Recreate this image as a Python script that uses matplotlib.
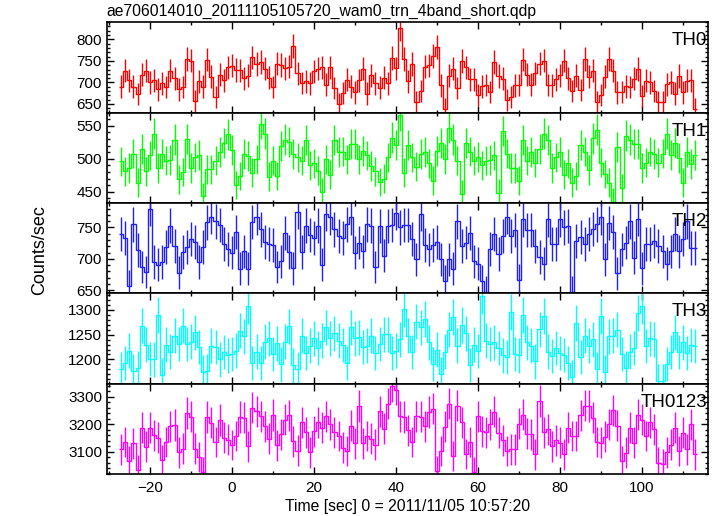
import numpy as np
import matplotlib
matplotlib.use("Agg")
import matplotlib.pyplot as plt
from matplotlib.ticker import MultipleLocator

plt.rcParams['font.family'] = ['Liberation Sans', 'DejaVu Sans']

# --- data (1 s bins, first bin starts at t = -27.5 s) ----------------------
t_start, bin_width = -27.5, 1.0

th0 = [690, 727, 705, 690, 673, 718, 727, 700, 705, 684,
       698, 689, 727, 710, 684, 689, 755, 751, 656, 703,
       690, 753, 713, 666, 718, 705, 735, 739, 729, 728,
       710, 716, 758, 743, 747, 732, 711, 689, 744, 741,
       733, 737, 784, 721, 699, 703, 698, 726, 732, 735,
       695, 735, 687, 650, 676, 706, 690, 677, 705, 732,
       674, 717, 698, 688, 711, 698, 757, 733, 826,
       755, 703, 743, 654, 680, 737, 740, 762, 782, 693,
       639, 716, 732, 687, 750, 735, 707, 707, 671, 691,
       694, 678, 747, 715, 709, 660, 667, 693, 694, 753,
       718, 695, 721, 744, 751, 694, 693, 707, 717, 751,
       710, 680, 716, 682, 755, 713, 727, 654, 671, 713,
       754, 727, 677, 678, 691, 689, 709, 731, 669, 704,
       700, 680, 655, 654, 696, 700, 674, 715, 677, 704,
       705, 638]

th1 = [496, 481, 486, 508, 464, 515, 481, 505, 538, 486,
       507, 497, 498, 529, 469, 480, 530, 486, 502, 506,
       443, 484, 484, 497, 510, 524, 537, 513, 460, 474,
       507, 504, 479, 499, 553, 538, 473, 497, 474, 520,
       529, 525, 507, 502, 497, 528, 490, 493, 482, 449,
       499, 476, 528, 510, 511, 499, 522, 523, 499, 512,
       505, 489, 481, 465, 470, 502, 532, 521, 566,
       479, 521, 502, 488, 507, 510, 493, 467, 512, 524,
       500, 547, 529, 497, 447, 524, 511, 497, 503, 490,
       497, 498, 505, 448, 542, 508, 486, 486, 467, 528,
       497, 510, 494, 515, 538, 528, 486, 502, 510, 476,
       493, 464, 474, 521, 511, 483, 531, 544, 494, 477,
       464, 435, 518, 455, 535, 529, 522, 523, 486, 494,
       511, 507, 494, 508, 538, 506, 524, 501, 464, 510,
       492, 506]

th2 = [740, 733, 656, 755, 714, 687, 679, 780, 695, 691,
       695, 719, 753, 720, 678, 711, 719, 732, 727, 695,
       719, 758, 767, 760, 754, 724, 716, 710, 743, 684,
       712, 684, 759, 766, 747, 727, 724, 722, 687, 696,
       741, 711, 685, 775, 711, 753, 738, 733, 753, 691,
       772, 766, 747, 737, 733, 755, 766, 710, 726, 712,
       755, 753, 687, 752, 705, 752, 754, 773,
       750, 754, 754, 731, 699, 772, 722, 715, 722, 727,
       699, 665, 699, 684, 760, 721, 726, 741, 696, 692,
       664, 648, 716, 740, 708, 737, 767, 736, 746, 666,
       763, 746, 746, 721, 703, 692, 763, 724, 724, 763,
       750, 752, 648, 729, 735, 724, 740, 748, 755, 766,
       699, 757, 743, 677, 715, 726, 760, 702, 764, 685,
       724, 724, 729, 721, 712, 692, 712, 740, 712, 731,
       760, 717, 717]

th3 = [1181, 1193, 1218, 1176, 1183, 1268, 1230, 1201, 1200, 1290,
       1168, 1230, 1216, 1248, 1231, 1268, 1231, 1236, 1255, 1225,
       1175, 1176, 1228, 1225, 1200, 1215, 1208, 1211, 1218, 1258,
       1247, 1307, 1193, 1216, 1193, 1236, 1243, 1211, 1233, 1190,
       1236, 1267, 1188, 1180, 1248, 1213, 1228, 1243, 1223, 1238,
       1265, 1243, 1253, 1238, 1229, 1193, 1265, 1243, 1245, 1225,
       1228, 1248, 1213, 1231, 1251, 1251, 1213, 1218,
       1241, 1301, 1248, 1215, 1276, 1265, 1281, 1235, 1191, 1220,
       1171, 1216, 1260, 1286, 1228, 1269, 1253, 1189, 1230, 1217,
       1327, 1238, 1231, 1235, 1223, 1208, 1205, 1295, 1211, 1208,
       1289, 1235, 1228, 1196, 1261, 1287, 1216, 1207, 1223, 1213,
       1209, 1193, 1165, 1273, 1205, 1248, 1228, 1241, 1181,
       1287, 1175, 1247, 1248, 1260, 1211, 1183, 1216, 1223, 1293,
       1308, 1227, 1243, 1241, 1156, 1156, 1191, 1215, 1255,
       1215, 1235, 1213, 1229, 1227]

th0123 = [3109, 3136, 3067, 3131, 3034, 3188, 3119, 3188, 3160, 3152,
          3070, 3136, 3194, 3198, 3099, 3112, 3242, 3228, 3112, 3082,
          3027, 3227, 3206, 3136, 3216, 3152, 3145, 3125, 3158, 3227,
          3224, 3121, 3261, 3248, 3230, 3194, 3148, 3234, 3124, 3164,
          3218, 3233, 3139, 3105, 3208, 3172, 3099, 3176, 3208, 3188,
          3230, 3200, 3172, 3158, 3115, 3103, 3196, 3131, 3267, 3131,
          3158, 3148, 3127, 3248, 3184, 3276, 3339, 3327,
          3230, 3227, 3179, 3136, 3230, 3228, 3194, 3245, 3257, 3030,
          3103, 3192, 3276, 3085, 3269, 3208, 3093, 3136, 3027, 3230,
          3176, 3172, 3200, 3246, 3170, 3143, 3103, 3109, 3109, 3202,
          3235, 3166, 3164, 3091, 3285, 3172, 3182, 3121, 3143, 3133,
          3091, 3188, 3158, 3158, 3233, 3269, 3267, 3224, 3136, 3133,
          3155, 3200, 3252, 3196, 3067, 3097, 3188, 3133, 3236, 3218,
          3158, 3208, 3182, 3061, 3055, 3099, 3127, 3188, 3103, 3170,
          3109, 3200, 3091]

names = ["TH0", "TH1", "TH2", "TH3", "TH0123"]
series = [th0, th1, th2, th3, th0123]
colors = ["#ff0000", "#00ff00", "#2020ff", "#00ffff", "#ff00ff"]
ylims = [(630, 840), (433, 570), (645, 789), (1151, 1333), (3019, 3348)]
major = [50, 50, 50, 50, 100]
minor = [10, 10, 10, 10, 20]
# --------------------------------------------------------------------------

fig, axes = plt.subplots(5, 1, sharex=True, figsize=(7.17, 5.16), dpi=100)
fig.subplots_adjust(left=0.149, right=0.987, top=0.957, bottom=0.081, hspace=0)

for ax, name, vals, col, yl, mj, mn in zip(axes, names, series, colors,
                                           ylims, major, minor):
    v = np.array(vals, dtype=float)
    edges = t_start + bin_width * np.arange(len(v) + 1)
    centers = edges[:-1] + bin_width / 2
    err = np.sqrt(v * bin_width)
    ax.stairs(v, edges, color=col, lw=1, baseline=None)
    ax.errorbar(centers, v, yerr=err, fmt="none", ecolor=col, elinewidth=1)
    ax.set_ylim(*yl)
    ax.yaxis.set_major_locator(MultipleLocator(mj))
    ax.yaxis.set_minor_locator(MultipleLocator(mn))
    ax.text(0.999, 0.89, name, transform=ax.transAxes, ha="right", va="top",
            fontsize=13.5)
    for s in ax.spines.values():
        s.set_linewidth(1.2)
    ax.tick_params(which="both", direction="in", top=True, right=True,
                   labelsize=11, width=1)
    ax.tick_params(which="major", length=5)
    ax.tick_params(which="minor", length=2.5)

axes[-1].set_xlim(-30.5, 116)
axes[-1].xaxis.set_major_locator(MultipleLocator(20))
axes[-1].xaxis.set_minor_locator(MultipleLocator(10))
axes[-1].tick_params(axis="x", pad=5)
axes[-1].set_xlabel("Time [sec] 0 = 2011/11/05 10:57:20", fontsize=11.3,
                    labelpad=3)

fig.text(0.055, 0.515, "Counts/sec", rotation=90, ha="center", va="center",
         fontsize=13)
fig.text(0.149, 0.977, "ae706014010_20111105105720_wam0_trn_4band_short.qdp",
         ha="left", va="center", fontsize=11.3)

fig.savefig("out.png", dpi=100)
